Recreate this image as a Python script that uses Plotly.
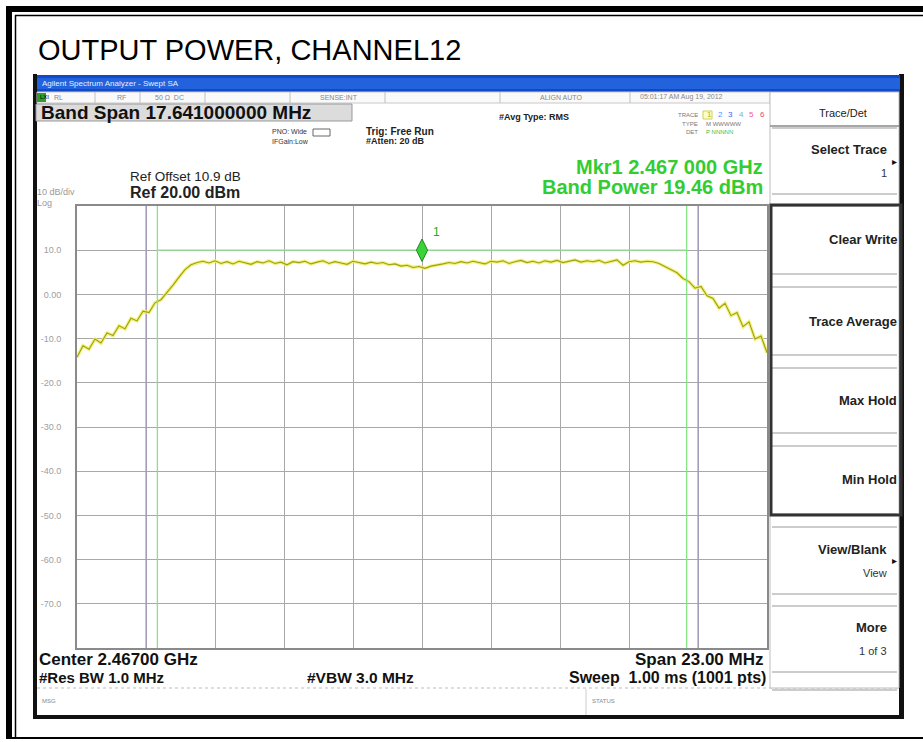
import numpy as np
import plotly.graph_objects as go

# ---------------- data ----------------
TITLE = "OUTPUT POWER, CHANNEL12"
CENTER_MHZ = 2467.0
SPAN_MHZ = 23.0
BAND_SPAN_MHZ = 17.641
REF_LEVEL_DBM = 20.0
DB_PER_DIV = 10.0
N_DIV = 10
MARKER_FREQ_MHZ = 2467.0
MARKER_LEVEL_DBM = 10.0
BAND_BAR_LEVEL_DBM = 10.0

TRACE_DBM = [
    -14.2, -11.6, -12.4, -10.1, -11.0, -8.7, -9.3, -7.1, -7.8, -5.4, -6.0,
    -3.8, -4.1, -1.9, -1.2, 0.4, 2.1, 3.9, 5.6, 6.7, 7.2,
    7.5, 7.1, 7.6, 7.0, 7.4, 6.9, 7.5, 7.2, 6.8, 7.4,
    7.1, 7.6, 7.0, 7.3, 6.7, 7.4, 7.2, 7.5, 6.9, 7.3,
    7.6, 7.0, 7.4, 7.1, 6.8, 7.5, 7.2, 6.9, 7.3, 7.0,
    7.2, 6.7, 6.9, 6.4, 6.6, 6.1, 6.3, 5.9, 6.4, 6.6,
    6.9, 7.2, 7.0, 7.4, 7.1, 7.5, 7.2, 6.9, 7.5, 7.3,
    7.6, 7.0, 7.4, 7.7, 7.2, 7.5, 7.1, 7.6, 7.3, 7.7,
    7.2, 7.5, 7.8, 7.3, 7.6, 7.4, 7.7, 7.1, 7.5, 7.8,
    6.6, 7.4, 7.6, 7.3, 7.5, 7.4,
    7.0, 6.3, 5.5, 4.9, 3.6, 2.9, 1.4, 1.8, -0.3, -0.9,
    -3.1, -2.0, -4.8, -4.1, -7.3, -6.2, -10.1, -9.4, -13.2,
]
Y_TICKS = [10, 0, -10, -20, -30, -40, -50, -60, -70]
Y_TICK_LABELS = ["10.0", "0.00", "-10.0", "-20.0", "-30.0", "-40.0", "-50.0", "-60.0", "-70.0"]

SOFT_KEYS = ["Select Trace", "Clear Write", "Trace Average", "Max Hold", "Min Hold", "View/Blank", "More"]
SOFT_KEY_SUB = ["1", "", "", "", "", "View", "1 of 3"]

# ---------------- derived ----------------
f_start = CENTER_MHZ - SPAN_MHZ / 2
f_stop = CENTER_MHZ + SPAN_MHZ / 2
freq = np.linspace(f_start, f_stop, len(TRACE_DBM))
y_bottom = REF_LEVEL_DBM - DB_PER_DIV * N_DIV
band_lo = CENTER_MHZ - BAND_SPAN_MHZ / 2
band_hi = CENTER_MHZ + BAND_SPAN_MHZ / 2
div_mhz = SPAN_MHZ / N_DIV

W, H = 923, 742
def X(p): return p / W
def Y(p): return 1 - p / H

FONT = "Liberation Sans, Arial, sans-serif"
shapes = []
annots = []

def rect(x0, y0, x1, y1, fill=None, line=None, lw=1, layer="above"):
    shapes.append(dict(type="rect", xref="paper", yref="paper",
                       x0=X(x0), x1=X(x1), y0=Y(y1), y1=Y(y0),
                       fillcolor=fill if fill else "rgba(0,0,0,0)",
                       line=dict(color=line if line else "rgba(0,0,0,0)", width=lw if line else 0),
                       layer=layer))

def hline(x0, x1, yy, color, lw=1, dash="solid"):
    shapes.append(dict(type="line", xref="paper", yref="paper", x0=X(x0), x1=X(x1), y0=Y(yy), y1=Y(yy),
                       line=dict(color=color, width=lw, dash=dash)))

def vline(xx, y0, y1, color, lw=1):
    shapes.append(dict(type="line", xref="paper", yref="paper", x0=X(xx), x1=X(xx), y0=Y(y0), y1=Y(y1),
                       line=dict(color=color, width=lw)))

def text(x, y, s, size=10, color="#111", anchor="left", bold=False, family=FONT):
    annots.append(dict(xref="paper", yref="paper", x=X(x), y=Y(y), text=(f"<b>{s}</b>" if bold else s),
                       showarrow=False, xanchor=anchor, yanchor="middle",
                       font=dict(size=size, color=color, family=family)))

# ---- outer page border ----
rect(6, 6, 923, 12, fill="#000")
rect(6, 6, 12, 739, fill="#000")
hline(15, 923, 15.5, "#000", 1.5)
vline(15.5, 15, 739, "#000", 1.5)
hline(6, 923, 738, "#000", 2)

# ---- title ----
text(36, 50, TITLE, size=29, color="#000")

# ---- screenshot frame ----
rect(33, 74, 37, 719, fill="#111")
rect(899, 74, 904, 719, fill="#111")
rect(33, 715, 904, 719, fill="#111")
rect(37, 75, 900, 92, fill="#1548c4")
rect(37, 78, 900, 89, fill="#2262dc")
text(40, 83, "Agilent Spectrum Analyzer - Swept SA", size=8, color="#e8eeff")

# status row
rect(37, 92, 770, 103, fill="#fafafa", line="#c8c8c8")
for sx in [95, 140, 205, 290, 385, 500, 630]:
    vline(sx, 92, 103, "#c0c0c0")
rect(37, 93, 46, 102, fill="#2aa02a")
text(38, 97.5, "LXI", size=6, color="#000")
for sx, s in [(52, "RL"), (115, "RF"), (153, "50 Ω  DC"), (318, "SENSE:INT"), (538, "ALIGN AUTO"),
              (638, "05:01:17 AM Aug 19, 2012")]:
    text(sx, 97.5, s, size=7, color="#888")

# band span box
rect(36, 104, 352, 121, fill="#dcdcdc", line="#999")
text(39, 112.5, "Band Span 17.641000000 MHz", size=19, color="#111", bold=True)

text(270, 131, "PNO: Wide", size=7, color="#333")
text(270, 141, "IFGain:Low", size=7, color="#333")
rect(313, 129, 330, 136, fill="#fff", line="#666")
text(364, 131, "Trig: Free Run", size=10, color="#222", bold=True)
text(364, 141, "#Atten: 20 dB", size=9, color="#222", bold=True)
text(497, 117, "#Avg Type: RMS", size=9, color="#222", bold=True)

# trace indicator
text(700, 115, "TRACE", size=6, color="#777", anchor="right")
text(700, 124, "TYPE", size=6, color="#777", anchor="right")
text(700, 132, "DET", size=6, color="#777", anchor="right")
rect(703, 111, 712, 119, fill="#ffffc8", line="#cccc66")
for i, (d, c) in enumerate(zip("123456", ["#b0b000", "#3399ff", "#3366ee", "#88aacc", "#ee5599", "#ee4466"])):
    text(705 + i * 10.5, 115, d, size=8, color=c)
text(704, 124, "M WWWWW", size=6, color="#777")
text(704, 132, "P NNNNN", size=6, color="#44bb44")

text(765, 167, "Mkr1 2.467 000 GHz", size=20, color="#33cc33", anchor="right", bold=True)
text(765, 187, "Band Power 19.46 dBm", size=20, color="#33cc33", anchor="right", bold=True)

text(128, 176, "Ref Offset 10.9 dB", size=13.5, color="#222")
text(128, 192, "Ref 20.00 dBm", size=16, color="#222", bold=True)
text(35, 192, "10 dB/div", size=9, color="#999")
text(35, 203, "Log", size=9, color="#999")

# bottom info
text(37, 659, "Center 2.46700 GHz", size=17, color="#111", bold=True)
text(766, 659, "Span 23.00 MHz", size=17, color="#111", anchor="right", bold=True)
text(37, 677, "#Res BW 1.0 MHz", size=15, color="#111", bold=True)
text(305, 677, "#VBW 3.0 MHz", size=15.5, color="#111", bold=True)
text(768, 677, "Sweep  1.00 ms (1001 pts)", size=16, color="#111", anchor="right", bold=True)
hline(37, 899, 688, "#bbbbbb", 1, "dot")
vline(586, 689, 715, "#cccccc")
text(40, 701, "MSG", size=6, color="#888")
text(590, 701, "STATUS", size=6, color="#888")

# right panel
rect(770, 92, 899, 688, fill="#ffffff", line="#bdbdbd")
text(843, 113, "Trace/Det", size=11, color="#222", anchor="center")
hline(770, 899, 126, "#888", 1.5)
keys_y = [(128, 194), (206, 274), (287, 355), (368, 433), (446, 514), (527, 594), (606, 672)]
for (ky0, ky1), lab, sub in zip(keys_y, SOFT_KEYS, SOFT_KEY_SUB):
    hline(772, 897, ky0, "#999", 1)
    hline(772, 897, ky1, "#999", 1)
    if sub:
        text(889, ky0 + (ky1 - ky0) * 0.33, lab, size=13, color="#222", anchor="right", bold=True)
        text(889, ky0 + (ky1 - ky0) * 0.68, sub, size=11, color="#333", anchor="right")
        if lab in ("Select Trace", "View/Blank"):
            text(899, ky0 + (ky1 - ky0) * 0.5, "▸", size=10, color="#111", anchor="right")
    else:
        text(899, (ky0 + ky1) / 2, lab, size=13, color="#222", anchor="right", bold=True)
rect(771, 205, 901, 515, line="#333", lw=3)
hline(772, 897, 690, "#999", 1)

# ---------------- traces ----------------
fig = go.Figure()
# purple display lines on first / last inner graticule
for f in (f_start + div_mhz, f_stop - div_mhz):
    fig.add_trace(go.Scatter(x=[f, f], y=[y_bottom, REF_LEVEL_DBM], mode="lines",
                             line=dict(color="#a596c8", width=1.2), hoverinfo="skip"))
fig.add_trace(go.Scatter(x=freq, y=TRACE_DBM, mode="lines",
                         line=dict(color="rgba(240,240,110,0.9)", width=3.4), hoverinfo="skip"))
fig.add_trace(go.Scatter(x=freq, y=TRACE_DBM, mode="lines",
                         line=dict(color="#a0a012", width=1.1), hoverinfo="skip"))
# band power edges and bar
for edge in (band_lo, band_hi):
    fig.add_trace(go.Scatter(x=[edge, edge], y=[y_bottom, REF_LEVEL_DBM], mode="lines",
                             line=dict(color="#86e486", width=1.3), hoverinfo="skip"))
fig.add_trace(go.Scatter(x=[band_lo, band_hi], y=[BAND_BAR_LEVEL_DBM, BAND_BAR_LEVEL_DBM], mode="lines",
                         line=dict(color="#8fe08f", width=1.3), hoverinfo="skip"))
fig.add_trace(go.Scatter(x=[MARKER_FREQ_MHZ], y=[MARKER_LEVEL_DBM], mode="markers+text",
                         marker=dict(symbol="diamond-tall", size=16, color="#3ad43a",
                                     line=dict(color="#1a8a1a", width=1)),
                         text=["1"], textposition="top right",
                         textfont=dict(color="#22aa22", size=12, family=FONT), hoverinfo="skip"))

fig.update_layout(
    width=W, height=H, margin=dict(l=0, r=0, t=0, b=0),
    paper_bgcolor="#ffffff", plot_bgcolor="rgba(0,0,0,0)",
    showlegend=False, shapes=shapes, annotations=annots,
    font=dict(family=FONT),
    xaxis=dict(domain=[X(77), X(767)], range=[f_start, f_stop],
               tick0=f_start, dtick=div_mhz, showticklabels=False, ticks="",
               showgrid=True, gridcolor="#a8a8a8", gridwidth=1, zeroline=False,
               showline=True, linecolor="#8a8a8a", linewidth=2, mirror=True),
    yaxis=dict(domain=[Y(648), Y(206)], range=[y_bottom, REF_LEVEL_DBM],
               tickvals=Y_TICKS, ticktext=Y_TICK_LABELS, ticks="",
               tickfont=dict(size=9, color="#a0a0a0"), ticklabelstandoff=12,
               showgrid=True, gridcolor="#a8a8a8", gridwidth=1, zeroline=False,
               showline=True, linecolor="#8a8a8a", linewidth=2, mirror=True),
)

fig.write_html("out.html", config={"displayModeBar": False},
               post_script="document.body.style.margin='0px';")
